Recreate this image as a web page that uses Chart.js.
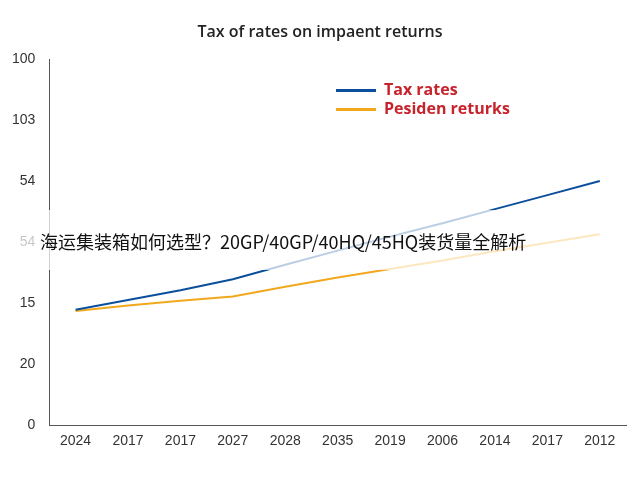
<!DOCTYPE html>
<html><head><meta charset="utf-8">
<script src="https://cdn.jsdelivr.net/npm/chart.js@4/dist/chart.umd.min.js"></script>
<style>
body{margin:0;background:#fff;font-family:"Open Sans",sans-serif}
#wrap{position:relative;width:640px;height:480px}
#title{position:absolute;top:20px;left:0;width:640px;text-align:center;font-size:16px;color:#222;font-weight:600}
#legend{position:absolute;left:336px;top:80px;font-size:16px;font-weight:bold;color:#c8232c;line-height:19px}
#legend span.sw{display:inline-block;width:40px;height:3px;vertical-align:middle;margin-right:8px}
#banner{position:absolute;left:0;top:210px;width:640px;height:60px;background:rgba(255,255,255,0.72);font-family:"Noto Sans CJK SC";font-size:18px;color:#111;line-height:62px;padding-left:40px;box-sizing:border-box}
</style></head><body>
<div id="wrap">
<canvas id="c" width="640" height="480"></canvas>
<div id="title">Tax of rates on impaent returns</div>
<div id="legend"><div><span class="sw" style="background:#0b4f9c"></span>Tax rates</div><div><span class="sw" style="background:#f2a81d"></span>Pesiden returks</div></div>
<div id="banner">海运集装箱如何选型？20GP/40GP/40HQ/45HQ装货量全解析</div>
</div>
<script>
const categories=["2024","2017","2017","2027","2028","2035","2019","2006","2014","2017","2012"];
const yTickLabels=["0","20","15","54","54","103","100"];
const taxRates=[1.89,2.05,2.21,2.39,2.63,2.86,3.09,3.31,3.54,3.77,4.0];
const pensionReturns=[1.87,1.96,2.04,2.11,2.27,2.42,2.56,2.7,2.85,2.99,3.13];
new Chart(document.getElementById('c'),{type:'line',
data:{labels:categories,datasets:[
{label:'Tax rates',data:taxRates,borderColor:'#0b4f9c',borderWidth:2,pointRadius:0,tension:0},
{label:'Pesiden returks',data:pensionReturns,borderColor:'#f2a81d',borderWidth:2,pointRadius:0,tension:0}]},
options:{responsive:false,animation:false,
layout:{padding:{top:59,right:14,left:6,bottom:30}},
plugins:{legend:{display:false},tooltip:{enabled:false}},
scales:{
x:{offset:true,grid:{display:false},border:{color:'#555'},ticks:{padding:0,color:'#333',font:{size:14},maxRotation:0,autoSkip:false}},
y:{min:0,max:6,grid:{display:false},border:{color:'#555'},ticks:{padding:6,color:'#333',font:{size:14},callback:(v)=>yTickLabels[v]}}
}}});
</script>
</body></html>
